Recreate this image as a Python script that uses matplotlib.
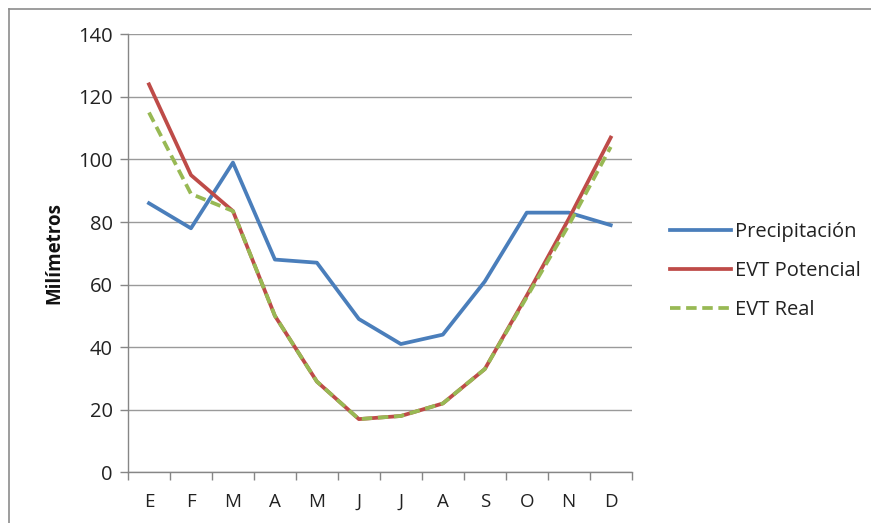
import matplotlib
matplotlib.use("Agg")
import matplotlib.pyplot as plt
from matplotlib.lines import Line2D
from matplotlib.ticker import FixedLocator, NullFormatter

plt.rcParams['font.family'] = ['Open Sans', 'DejaVu Sans']

months = ["E", "F", "M", "A", "M", "J", "J", "A", "S", "O", "N", "D"]
precipitacion = [86, 78, 99, 68, 67, 49, 41, 44, 61, 83, 83, 79]
evt_potencial = [124, 95, 83.5, 50, 29, 17, 18, 22, 33, 56.5, 81, 107]
evt_real = [115, 89, 83.5, 50, 29, 17, 18, 22, 33, 56, 79, 104]
yticks = [0, 20, 40, 60, 80, 100, 120, 140]

W, H = 871, 523
fig = plt.figure(figsize=(W / 100, H / 100), dpi=100)
ax = fig.add_axes([128 / W, 1 - 472.3 / H, (631.7 - 128) / W, (472.3 - 34.3) / H])

x = list(range(len(months)))
ax.plot(x, precipitacion, color="#4A7EBB", lw=2.7, label="Precipitación", zorder=3)
ax.plot(x, evt_potencial, color="#BE4B48", lw=2.7, label="EVT Potencial", zorder=4)
ax.plot(x, evt_real, color="#98B954", lw=2.7, ls=(0, (2.8, 1.5)), label="EVT Real", zorder=5)

ax.set_xlim(-0.5, len(months) - 0.5)
ax.set_ylim(0, 140)
ax.set_yticks(yticks)
ax.set_xticks(x)
ax.set_xticklabels(months)
ax.xaxis.set_minor_locator(FixedLocator([i - 0.5 for i in range(len(months) + 1)]))
ax.xaxis.set_minor_formatter(NullFormatter())
ax.tick_params(axis='x', which='major', length=0, pad=15, labelsize=13.5, colors='#222222')
ax.tick_params(axis='x', which='minor', length=6, width=1, color='#868686', direction='out')
ax.tick_params(axis='y', which='major', length=6, width=1, color='#868686', pad=5, labelsize=14.5, labelcolor='#222222')

ax.grid(axis='y', color='#9a9a9a', lw=1)
ax.set_axisbelow(True)
for s in ['top', 'right']:
    ax.spines[s].set_visible(False)
for s in ['left', 'bottom']:
    ax.spines[s].set_color('#868686')
    ax.spines[s].set_linewidth(1)

ax.set_ylabel("Milímetros", fontsize=13.5, fontweight='bold', labelpad=10, color='#111111')

leg = fig.legend(loc='upper left', bbox_to_anchor=(652 / W, 1 - 204 / H), frameon=False,
                 fontsize=14.5, handlelength=3.0, handletextpad=0.2, labelspacing=0.94,
                 labelcolor='#222222')

# outer frame
fig.add_artist(Line2D([9 / W, 9 / W], [0, 1 - 9 / H], transform=fig.transFigure, color='#8c8c8c', lw=1.2))
fig.add_artist(Line2D([9 / W, 1], [1 - 9 / H, 1 - 9 / H], transform=fig.transFigure, color='#8c8c8c', lw=1.2))

fig.savefig("out.png", dpi=100)
